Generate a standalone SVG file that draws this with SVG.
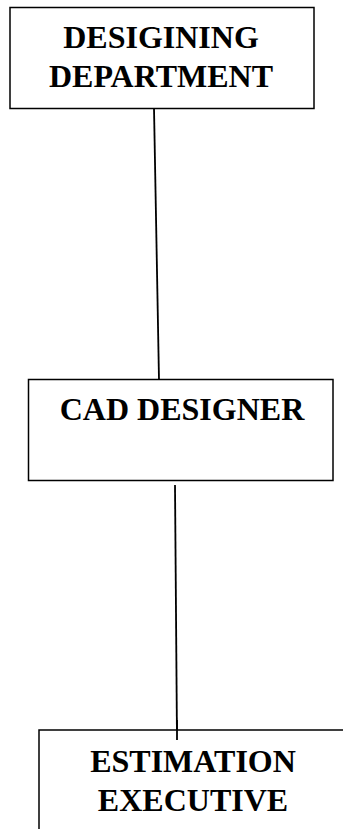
<svg xmlns="http://www.w3.org/2000/svg" width="343" height="829" viewBox="0 0 343 829">
<style>
.box{fill:#fff;stroke:#000;stroke-width:1.5}
.lbl{font-family:"Liberation Serif","Times New Roman",serif;font-weight:bold;font-size:32px;fill:#000;text-anchor:middle}
.con{stroke:#000;stroke-width:1.8;fill:none}
</style>
<rect width="343" height="829" fill="#fff"/>
<g id="connectors">
<line class="con" x1="154" y1="108" x2="159" y2="380"/>
<line class="con" x1="175" y1="485" x2="177" y2="740"/>
</g>
<g id="node-designing">
<rect class="box" x="10" y="7.5" width="304" height="101"/>
<text class="lbl" x="161" y="48">DESIGINING</text>
<text class="lbl" x="161" y="87">DEPARTMENT</text>
</g>
<g id="node-cad">
<rect class="box" x="28.5" y="379.5" width="304.5" height="101"/>
<text class="lbl" x="182" y="420">CAD DESIGNER</text>
</g>
<g id="node-estimation">
<path class="box" d="M39,829 V730 H345"/>
<line class="con" x1="177" y1="720" x2="177" y2="740"/>
<text class="lbl" x="193" y="772">ESTIMATION</text>
<text class="lbl" x="193" y="811">EXECUTIVE</text>
</g>
</svg>
